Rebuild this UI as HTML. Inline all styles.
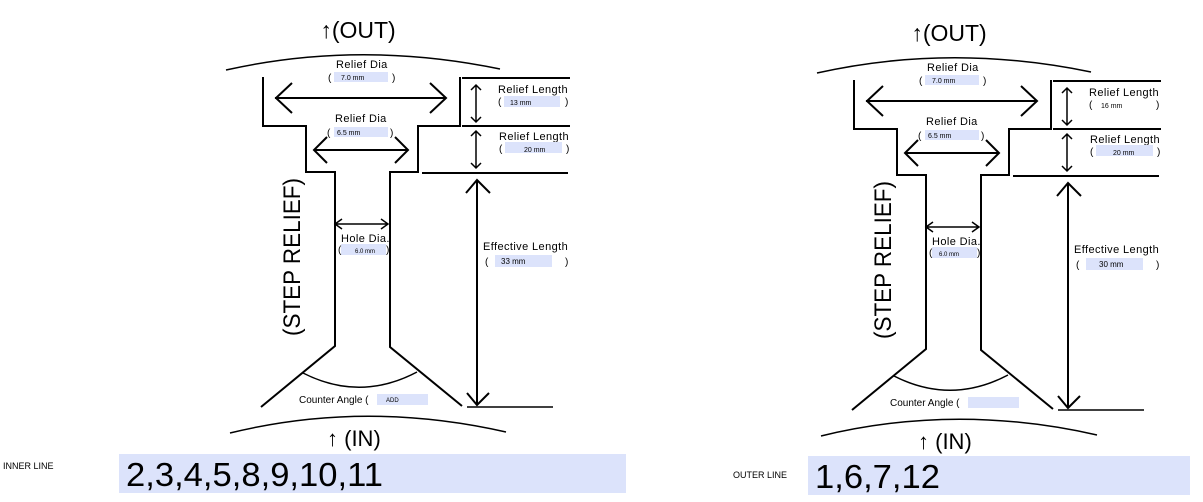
<!DOCTYPE html>
<html><head><meta charset="utf-8"><style>
body{margin:0;background:#fff;}
svg{display:block;font-family:"Liberation Sans",Arial,sans-serif;}
</style></head><body>
<svg width="1203" height="502" viewBox="0 0 1203 502" xmlns="http://www.w3.org/2000/svg">
<defs>
<g id="dia" fill="none" stroke="#000">
  <path d="M226,70 Q360,40 500,69" stroke-width="1.5"/>
  <path d="M263,77 V126 H306 V172 H335 V346 L261,407" stroke-width="2"/>
  <path d="M460,77 V126 H418 V172 H390 V347 L462,406" stroke-width="2"/>
  <path d="M462,78 H570 M462,126 H570 M422,173 H568" stroke-width="2"/>
  <path d="M467,407 H553" stroke-width="1.5"/>
  <path d="M230,433 Q365,400 506,432" stroke-width="1.5"/>
  <path d="M303,373 Q360,402 417,372" stroke-width="1.5"/>
  <path d="M275,98 H446 M292,83 L276,98 L292,113 M430,83 L446,98 L430,113" stroke-width="2"/>
  <path d="M314,150 H408 M327,137 L314,150 L327,163 M395,137 L408,150 L395,163" stroke-width="2"/>
  <path d="M335,224 H388 M342,219 L335,224 L342,229 M381,219 L388,224 L381,229" stroke-width="1.5"/>
  <path d="M476,85 V122 M471,90 L476,85 L481,90 M471,117 L476,122 L481,117" stroke-width="1.5"/>
  <path d="M476,131 V168 M471,136 L476,131 L481,136 M471,163 L476,168 L481,163" stroke-width="1.5"/>
  <path d="M477,180 V405 M466,193 L477,180 L490,193 M467,393 L477,405 L489,393" stroke-width="2"/>
</g>
</defs>

<g font-size="11" fill="#000" letter-spacing="0.4">
  <text x="358" y="38" font-size="23" text-anchor="middle" letter-spacing="0">↑(OUT)</text>
  <text x="336" y="68">Relief Dia</text>
  <rect x="334" y="72" width="54" height="10" fill="#dce3fb"/>
  <text x="328" y="81" font-size="10">(</text><text x="392" y="81" font-size="10">)</text>
  <text x="341" y="80" font-size="7" letter-spacing="0">7.0 mm</text>
  <text x="335" y="122">Relief Dia</text>
  <rect x="334" y="127" width="54" height="10" fill="#dce3fb"/>
  <text x="327" y="136" font-size="10">(</text><text x="390" y="136" font-size="10">)</text>
  <text x="337" y="135" font-size="7" letter-spacing="0">6.5 mm</text>
  <text x="498" y="93">Relief Length</text>
  <rect x="504" y="96" width="56" height="11" fill="#dce3fb"/>
  <text x="498" y="105" font-size="10">(</text><text x="565" y="105" font-size="10">)</text>
  <text x="510" y="105" font-size="7" letter-spacing="0">13 mm</text>
  <text x="499" y="140">Relief Length</text>
  <rect x="505" y="142" width="57" height="11" fill="#dce3fb"/>
  <text x="499" y="152" font-size="10">(</text><text x="566" y="152" font-size="10">)</text>
  <text x="524" y="152" font-size="7" letter-spacing="0">20 mm</text>
  <text x="341" y="242">Hole Dia.</text>
  <rect x="341" y="244" width="45" height="11" fill="#dce3fb"/>
  <text x="338" y="253" font-size="10">(</text><text x="386" y="253" font-size="10">)</text>
  <text x="355" y="253" font-size="6" letter-spacing="0">6.0 mm</text>
  <text x="483" y="250">Effective Length</text>
  <rect x="495" y="255" width="57" height="12" fill="#dce3fb"/>
  <text x="485" y="265" font-size="10">(</text><text x="565" y="265" font-size="10">)</text>
  <text x="501" y="264" font-size="8" letter-spacing="0">33 mm</text>
  <text x="299" y="403" font-size="10" letter-spacing="0">Counter Angle (</text>
  <rect x="377" y="394" width="51" height="11" fill="#dce3fb"/>
  <text x="386" y="402" font-size="6" letter-spacing="0">ADD</text>
  <text x="327" y="446" font-size="22" letter-spacing="0">↑ (IN)</text>
  <text transform="translate(300,336) rotate(-90)" font-size="24" letter-spacing="0" textLength="158" lengthAdjust="spacingAndGlyphs">(STEP RELIEF)</text>
  <text x="3" y="469" font-size="9" letter-spacing="0">INNER LINE</text>
  <rect x="119" y="454" width="507" height="39" fill="#dce3fb"/>
  <text x="126" y="486" font-size="33" letter-spacing="0" textLength="257" lengthAdjust="spacingAndGlyphs">2,3,4,5,8,9,10,11</text>
</g>

<g transform="translate(591,3)">
<use href="#dia"/>
<g font-size="11" fill="#000" letter-spacing="0.4">
  <text x="358" y="38" font-size="23" text-anchor="middle" letter-spacing="0">↑(OUT)</text>
  <text x="336" y="68">Relief Dia</text>
  <rect x="334" y="72" width="54" height="10" fill="#dce3fb"/>
  <text x="328" y="81" font-size="10">(</text><text x="392" y="81" font-size="10">)</text>
  <text x="341" y="80" font-size="7" letter-spacing="0">7.0 mm</text>
  <text x="335" y="122">Relief Dia</text>
  <rect x="334" y="127" width="54" height="10" fill="#dce3fb"/>
  <text x="327" y="136" font-size="10">(</text><text x="390" y="136" font-size="10">)</text>
  <text x="337" y="135" font-size="7" letter-spacing="0">6.5 mm</text>
  <text x="498" y="93">Relief Length</text>
  <text x="498" y="105" font-size="10">(</text><text x="565" y="105" font-size="10">)</text>
  <text x="510" y="105" font-size="7" letter-spacing="0">16 mm</text>
  <text x="499" y="140">Relief Length</text>
  <rect x="505" y="142" width="57" height="11" fill="#dce3fb"/>
  <text x="499" y="152" font-size="10">(</text><text x="566" y="152" font-size="10">)</text>
  <text x="522" y="152" font-size="7" letter-spacing="0">20 mm</text>
  <text x="341" y="242">Hole Dia.</text>
  <rect x="341" y="244" width="45" height="11" fill="#dce3fb"/>
  <text x="338" y="253" font-size="10">(</text><text x="386" y="253" font-size="10">)</text>
  <text x="348" y="253" font-size="6" letter-spacing="0">6.0 mm</text>
  <text x="483" y="250">Effective Length</text>
  <rect x="495" y="255" width="57" height="12" fill="#dce3fb"/>
  <text x="485" y="265" font-size="10">(</text><text x="565" y="265" font-size="10">)</text>
  <text x="508" y="264" font-size="8" letter-spacing="0">30 mm</text>
  <text x="299" y="403" font-size="10" letter-spacing="0">Counter Angle (</text>
  <rect x="377" y="394" width="51" height="11" fill="#dce3fb"/>
  <text x="327" y="446" font-size="22" letter-spacing="0">↑ (IN)</text>
  <text transform="translate(300,336) rotate(-90)" font-size="24" letter-spacing="0" textLength="158" lengthAdjust="spacingAndGlyphs">(STEP RELIEF)</text>
</g>
</g>
<use href="#dia"/>
<text x="733" y="478" font-size="9">OUTER LINE</text>
<rect x="808" y="456" width="382" height="39" fill="#dce3fb"/>
<text x="815" y="488" font-size="33" textLength="125" lengthAdjust="spacingAndGlyphs">1,6,7,12</text>
</svg>
</body></html>
